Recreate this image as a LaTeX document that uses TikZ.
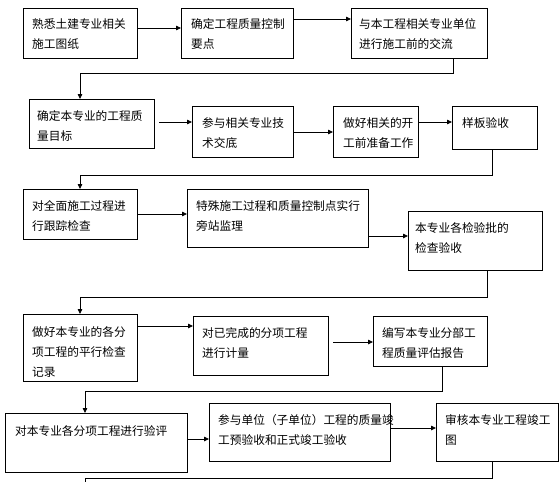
\documentclass[tikz,border=0pt]{standalone}
\usepackage{fontspec}
\newfontfamily\cjk{Noto Sans CJK SC}
\usetikzlibrary{arrows.meta}
\begin{document}
\begin{tikzpicture}[x=1pt,y=-1pt,
  boxst/.style={draw=black,line width=0.8pt,rectangle,inner sep=0pt,outer sep=0pt,anchor=north west},
  txt/.style={anchor=north west,inner sep=0pt,align=left,font=\cjk\fontsize{11.7}{20}\selectfont},
  arr/.style={draw=black,line width=0.8pt,-{Triangle[length=5pt,width=4.5pt]}},
  ln/.style={draw=black,line width=0.8pt}]
\useasboundingbox[fill=white] (0,0) rectangle (560,482);
% row 1
\node[boxst,minimum width=114pt,minimum height=50pt] (A) at (23,8) {};
\node[boxst,minimum width=112pt,minimum height=50pt] (B) at (181,8) {};
\node[boxst,minimum width=136pt,minimum height=50pt] (C) at (351,8) {};
% row 2
\node[boxst,minimum width=125pt,minimum height=49pt] (D) at (29,99) {};
\node[boxst,minimum width=101pt,minimum height=51pt] (E) at (192,106) {};
\node[boxst,minimum width=85pt,minimum height=51pt] (F) at (333,106) {};
\node[boxst,minimum width=85pt,minimum height=43pt] (G) at (452,106) {};
% row 3
\node[boxst,minimum width=114pt,minimum height=50pt] (H) at (23,189) {};
\node[boxst,minimum width=181pt,minimum height=58pt] (I) at (187,189) {};
\node[boxst,minimum width=134pt,minimum height=59pt] (J) at (408,211) {};
% row 4
\node[boxst,minimum width=114pt,minimum height=67pt] (K) at (23,314) {};
\node[boxst,minimum width=135pt,minimum height=59pt] (L) at (193,316) {};
\node[boxst,minimum width=114pt,minimum height=50pt] (M) at (373,316) {};
% row 5
\node[boxst,minimum width=182pt,minimum height=59pt] (N) at (5,413) {};
\node[boxst,minimum width=181pt,minimum height=58pt] (O) at (209,403) {};
\node[boxst,minimum width=122pt,minimum height=58pt] (P) at (436,403) {};
% texts
\node[txt] (At) at ([shift={(9pt,-10pt)}]A.north west) {熟悉土建专业相关\\施工图纸};
\node[txt] (Bt) at ([shift={(10pt,-10pt)}]B.north west) {确定工程质量控制\\要点};
\node[txt] (Ct) at ([shift={(8pt,-10pt)}]C.north west) {与本工程相关专业单位\\进行施工前的交流};
\node[txt] (Dt) at ([shift={(8pt,-11pt)}]D.north west) {确定本专业的工程质\\量目标};
\node[txt] (Et) at ([shift={(10pt,-11pt)}]E.north west) {参与相关专业技\\术交底};
\node[txt] (Ft) at ([shift={(10pt,-11pt)}]F.north west) {做好相关的开\\工前准备工作};
\node[txt] (Gt) at ([shift={(10pt,-11pt)}]G.north west) {样板验收};
\node[txt] (Ht) at ([shift={(9pt,-11pt)}]H.north west) {对全面施工过程进\\行跟踪检查};
\node[txt] (It) at ([shift={(9pt,-11pt)}]I.north west) {特殊施工过程和质量控制点实行\\旁站监理};
\node[txt] (Jt) at ([shift={(7pt,-11pt)}]J.north west) {本专业各检验批的\\检查验收};
\node[txt] (Kt) at ([shift={(9pt,-12pt)}]K.north west) {做好本专业的各分\\项工程的平行检查\\记录};
\node[txt] (Lt) at ([shift={(9pt,-11pt)}]L.north west) {对已完成的分项工程\\进行计量};
\node[txt] (Mt) at ([shift={(9pt,-11pt)}]M.north west) {编写本专业分部工\\程质量评估报告};
\node[txt] (Nt) at ([shift={(10pt,-12pt)}]N.north west) {对本专业各分项工程进行验评};
\node[txt] (Ot) at ([shift={(9pt,-11pt)}]O.north west) {参与单位（子单位）工程的质量竣\\工预验收和正式竣工验收};
\node[txt] (Pt) at ([shift={(9pt,-11pt)}]P.north west) {审核本专业工程竣工\\图};
% horizontal arrows
\draw[arr] (A.east |- 0,28) -- (B.west |- 0,28);
\draw[arr] (B.east |- 0,19) -- (C.west |- 0,19);
\draw[arr] (D.east |- 0,122) ++(5,0) -- (E.west |- 0,122);
\draw[arr] (E.east |- 0,132) -- (F.west |- 0,132);
\draw[arr] (F.east |- 0,122) -- (G.west |- 0,122);
\draw[arr] (H.east |- 0,214) -- (I.west |- 0,214);
\draw[arr] (I.east |- 0,236) -- (J.west |- 0,236);
\draw[arr] (K.east |- 0,326) -- (L.west |- 0,326);
\draw[arr] (L.east |- 0,342) ++(5,0) -- (M.west |- 0,342);
\draw[arr] (N.east |- 0,439) -- (O.west |- 0,439);
\draw[arr] (O.east |- 0,428) -- (P.west |- 0,428);
% return connectors
\draw[arr] (C.south -| 453,0) |- (80,73) -- (D.north -| 80,0);
\draw[arr] (G.south -| 492,0) |- (80,175) -- (H.north -| 80,0);
\draw[arr] (J.south -| 487,0) |- (80,297) -- (K.north -| 80,0);
\draw[arr] (M.south -| 442,0) |- (85,391) -- (N.north -| 85,0);
\coordinate (tail) at (85,484);
\draw[ln] (P.south -| 492,0) |- (tail |- 0,478) -- (tail);
\end{tikzpicture}
\end{document}
